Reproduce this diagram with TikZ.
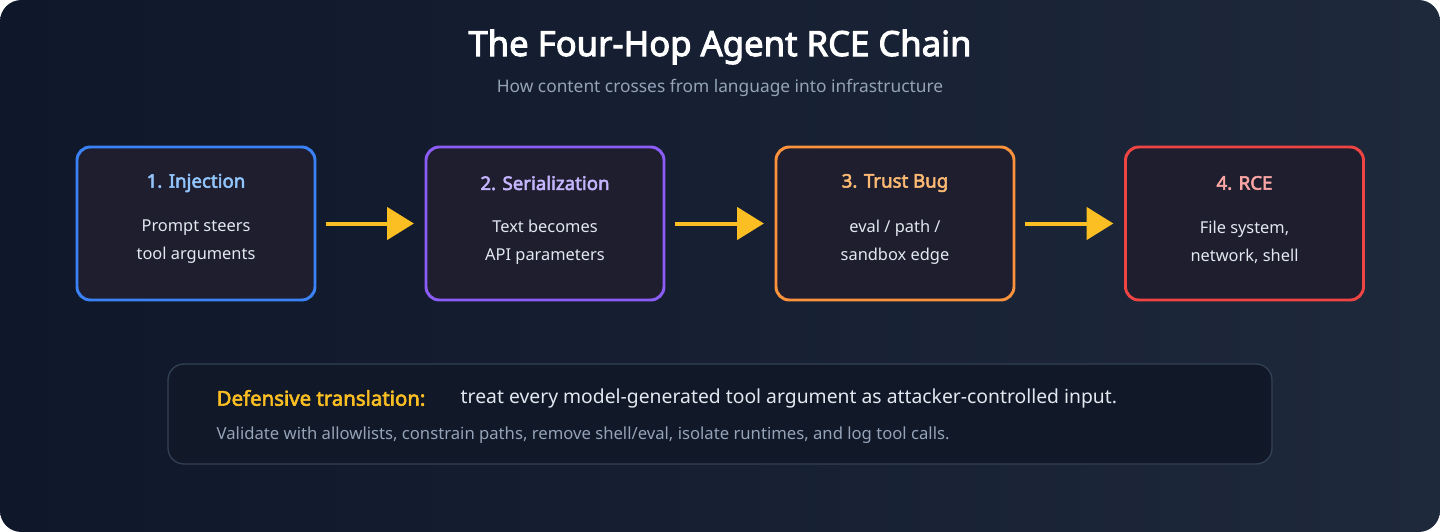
\documentclass[tikz,border=0pt]{standalone}
\usepackage{fontspec}
\setmainfont{Noto Sans}[AutoFakeBold=2.8]
\usetikzlibrary{arrows.meta}
\definecolor{bgA}{HTML}{0F172A}
\definecolor{bgB}{HTML}{1E293B}
\definecolor{boxf}{HTML}{1E1E2E}
\definecolor{cb}{HTML}{3B82F6}\definecolor{cbt}{HTML}{93C5FD}
\definecolor{cp}{HTML}{8B5CF6}\definecolor{cpt}{HTML}{C4B5FD}
\definecolor{co}{HTML}{FB923C}\definecolor{cot}{HTML}{FDBA74}
\definecolor{cr}{HTML}{EF4444}\definecolor{crt}{HTML}{FCA5A5}
\definecolor{arr}{HTML}{FBBF24}
\definecolor{sub}{HTML}{94A3B8}
\definecolor{txt}{HTML}{E2E8F0}
\definecolor{botf}{HTML}{111827}
\definecolor{botd}{HTML}{334155}
\tikzset{
 step/.style={draw=#1, line width=2.2pt, fill=boxf, rounded corners=10pt, minimum width=178.5pt, minimum height=114.75pt},
 ttl/.style={font=\bfseries\fontsize{14}{17}\selectfont, text=#1},
 body/.style={font=\fontsize{12.3}{21}\selectfont, text=txt, align=center},
 flow/.style={draw=arr, line width=3pt, -{Triangle[length=20pt,width=24pt]}, shorten <=7pt, shorten >=8pt}
}
\begin{document}
\begin{tikzpicture}[x=0.75pt,y=-0.75pt]
\useasboundingbox (0,0) rectangle (1440,532);
\shade[left color=bgA, right color=bgB, rounded corners=16pt] (0,0) rectangle (1440,532);
\node[font=\bfseries\fontsize{26}{31}\selectfont, text=white] (title) at (720,47) {The Four-Hop Agent RCE Chain};
\node[font=\fontsize{13}{16}\selectfont, text=sub] (subt) at (720,88) {How content crosses from language into infrastructure};
\node[step=cb] (b1) at (196,223.5) {};
\node[step=cp] (b2) at (545,223.5) {};
\node[step=co] (b3) at (895,223.5) {};
\node[step=cr] (b4) at (1244.5,223.5) {};
\node[ttl=cbt] (t1) at (196,183) {1. Injection};
\node[ttl=cpt] (t2) at (545,183) {2. Serialization};
\node[ttl=cot] (t3) at (895,183) {3. Trust Bug};
\node[ttl=crt] (t4) at (1244.5,183) {4. RCE};
\node[body] (d1) at (196,242) {Prompt steers\\tool arguments};
\node[body] (d2) at (545,242) {Text becomes\\API parameters};
\node[body] (d3) at (895,242) {eval / path /\\sandbox edge};
\node[body] (d4) at (1244.5,242) {File system,\\network, shell};
\draw[flow] (b1) -- (b2);
\draw[flow] (b2) -- (b3);
\draw[flow] (b3) -- (b4);
\node[draw=botd, line width=1pt, fill=botf, rounded corners=12pt, minimum width=828pt, minimum height=75pt] (def) at (720,414) {};
\node[anchor=west, font=\bfseries\fontsize{15.3}{18}\selectfont, text=arr] (dl) at (212,398) {Defensive translation:};
\node[anchor=west, font=\fontsize{14.5}{17}\selectfont, text=txt] (dm) at (456,398) {treat every model-generated tool argument as attacker-controlled input.};
\node[anchor=west, font=\fontsize{12.5}{15}\selectfont, text=sub] (ds) at (212,435) {Validate with allowlists, constrain paths, remove shell/eval, isolate runtimes, and log tool calls.};
\end{tikzpicture}
\end{document}
